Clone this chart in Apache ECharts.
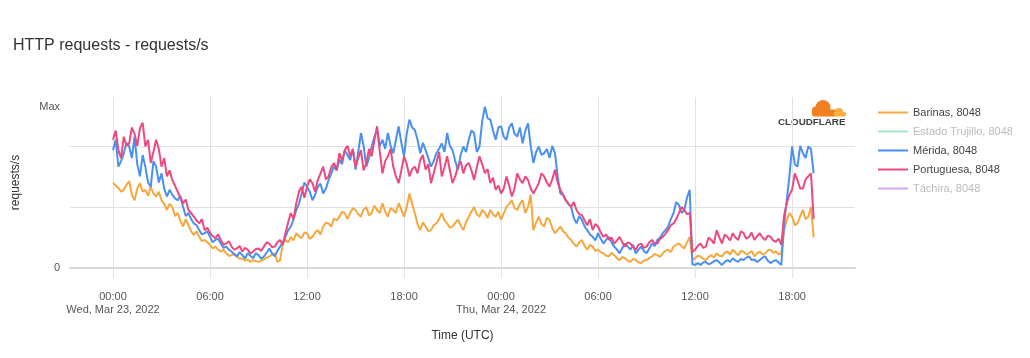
<!DOCTYPE html>
<html><head><meta charset="utf-8">
<script src="https://cdn.jsdelivr.net/npm/echarts@6/dist/echarts.min.js"></script>
<style>html,body{margin:0;padding:0;background:#fff}#c{width:1030px;height:358px}</style>
</head><body><div id="c"></div>
<script>
// Time sampling: one point every 10 minutes, hours since Wed, Mar 23, 2022 00:00 UTC
const startHour = 0;
const stepHours = 1 / 6;

// requests/s (relative units; grid lines at 1 and 2)
const barinas = [
1.39,1.35,1.31,1.25,1.28,1.36,1.42,1.2,1.11,1.3,1.39,1.25,1.28,1.18,1.33,1.22,1.17,1.25,1.11,1.05,
0.95,1.05,1.0,0.85,0.9,0.78,0.68,0.8,0.70,0.6,0.54,0.6,0.51,0.44,0.46,0.42,0.38,0.32,0.35,0.3,
0.27,0.3,0.24,0.2,0.21,0.24,0.19,0.15,0.16,0.12,0.14,0.1,0.13,0.11,0.10,0.12,0.14,0.17,0.19,0.22,
0.24,0.1,0.13,0.4,0.46,0.42,0.51,0.45,0.57,0.52,0.49,0.58,0.57,0.48,0.51,0.58,0.62,0.55,0.68,0.74,
0.73,0.68,0.81,0.78,0.84,0.92,0.9,0.8,0.9,0.98,0.95,0.88,0.84,0.96,1.0,0.86,0.9,1.02,0.95,0.9,
1.06,0.92,0.84,0.98,0.95,0.9,1.06,0.96,0.84,1.0,1.22,1.05,0.9,0.72,0.62,0.75,0.68,0.6,0.62,0.7,
0.73,0.8,0.9,0.78,0.73,0.66,0.68,0.74,0.79,0.7,0.62,0.75,0.84,0.92,1.0,0.88,0.84,0.95,0.9,0.82,
0.95,0.88,0.84,0.92,0.79,0.9,1.0,1.05,1.11,0.98,0.95,1.05,1.11,0.9,1.0,1.2,0.62,0.75,0.84,0.72,
0.68,0.82,0.79,0.65,0.57,0.62,0.68,0.6,0.57,0.5,0.46,0.4,0.35,0.42,0.46,0.36,0.30,0.38,0.35,0.28,
0.30,0.26,0.24,0.2,0.19,0.25,0.21,0.16,0.13,0.18,0.16,0.12,0.10,0.15,0.13,0.09,0.08,0.12,0.13,0.16,
0.19,0.23,0.21,0.18,0.24,0.28,0.30,0.26,0.35,0.38,0.40,0.36,0.32,0.42,0.51,0.14,0.16,0.2,0.19,0.15,
0.13,0.18,0.21,0.17,0.24,0.2,0.19,0.25,0.27,0.22,0.30,0.25,0.21,0.28,0.27,0.22,0.24,0.28,0.19,0.24,
0.27,0.22,0.24,0.29,0.30,0.25,0.27,0.22,0.24,0.6,0.79,0.9,0.84,0.7,0.73,0.85,0.95,0.8,0.84,1.0,
0.5
];
const estadoTrujillo = [];
const merida = [
1.93,2.1,1.66,1.75,1.88,2.05,1.99,1.8,2.15,1.7,1.5,1.85,1.66,1.4,1.33,1.75,1.66,1.4,1.55,1.3,
1.17,1.28,1.2,1.14,1.11,1.18,1.0,0.85,0.9,0.8,0.73,0.7,0.62,0.55,0.57,0.6,0.51,0.42,0.46,0.48,
0.40,0.33,0.35,0.3,0.27,0.22,0.19,0.26,0.21,0.16,0.24,0.2,0.16,0.24,0.21,0.15,0.19,0.25,0.32,0.24,
0.19,0.28,0.35,0.42,0.51,0.62,0.68,0.8,0.95,1.05,1.22,1.4,1.33,1.25,1.11,1.2,1.33,1.38,1.22,1.3,
1.44,1.55,1.66,1.6,1.77,1.7,1.93,1.85,1.77,1.95,1.61,1.9,2.21,2.0,1.66,1.8,1.99,2.15,2.26,2.0,
2.1,1.95,2.21,2.0,1.88,2.1,2.32,2.05,1.83,2.2,2.43,2.3,2.26,2.1,1.88,2.05,1.93,1.8,1.66,1.75,
1.88,1.95,2.04,1.9,2.21,2.0,1.93,1.75,1.61,1.85,1.99,1.9,2.1,2.25,2.21,1.9,1.99,2.4,2.64,2.45,
2.43,2.25,2.1,2.3,2.32,2.15,2.1,2.3,2.37,2.2,2.15,2.3,2.04,2.25,2.37,2.0,1.72,1.9,1.99,1.85,
1.88,1.95,1.8,2.0,1.88,1.5,1.22,1.2,1.11,1.05,1.0,0.82,0.73,0.85,0.79,0.68,0.62,0.55,0.51,0.45,
0.57,0.48,0.40,0.46,0.51,0.42,0.35,0.3,0.24,0.33,0.40,0.35,0.30,0.38,0.24,0.3,0.35,0.28,0.24,0.32,
0.40,0.36,0.46,0.5,0.57,0.62,0.68,0.8,0.90,1.08,1.03,0.9,0.95,1.15,1.28,0.06,0.05,0.08,0.05,0.09,
0.10,0.06,0.08,0.11,0.13,0.09,0.05,0.1,0.13,0.1,0.16,0.12,0.10,0.15,0.13,0.17,0.19,0.13,0.14,0.1,
0.13,0.17,0.19,0.12,0.08,0.11,0.13,0.09,0.05,0.7,1.11,1.5,1.99,1.7,1.66,2.0,1.88,1.8,1.99,1.95,
1.55
];
const portuguesa = [
2.1,2.25,1.93,1.8,2.15,2.0,2.04,2.3,2.2,2.0,2.29,2.38,1.99,2.1,1.72,1.9,2.1,1.95,1.66,1.8,
1.5,1.6,1.44,1.35,1.25,1.15,1.06,1.12,0.95,0.9,0.84,0.78,0.73,0.8,0.62,0.66,0.57,0.52,0.49,0.55,
0.46,0.38,0.40,0.44,0.35,0.3,0.32,0.36,0.27,0.33,0.30,0.24,0.27,0.31,0.32,0.28,0.35,0.42,0.40,0.34,
0.35,0.42,0.46,0.38,0.57,0.75,0.9,0.8,1.06,1.25,1.33,1.15,1.33,1.45,1.39,1.25,1.44,1.55,1.66,1.45,
1.5,1.65,1.72,1.6,1.88,1.75,1.93,2.0,1.83,1.95,1.66,1.8,1.93,1.6,1.72,1.95,1.83,2.1,2.32,1.9,
1.55,1.75,1.83,1.95,1.66,1.5,1.39,1.6,1.83,1.7,1.5,1.62,1.66,1.55,1.77,1.85,1.61,1.7,1.39,1.55,
1.72,1.9,1.5,1.65,1.83,1.6,1.39,1.5,1.66,1.75,1.55,1.68,1.72,1.6,1.44,1.65,1.83,1.7,1.55,1.62,
1.39,1.48,1.28,1.35,1.22,1.3,1.5,1.35,1.17,1.3,1.55,1.45,1.39,1.5,1.44,1.3,1.22,1.3,1.39,1.55,
1.5,1.4,1.33,1.45,1.61,1.4,1.28,1.2,1.11,1.05,1.0,1.08,0.95,0.88,0.87,0.78,0.7,0.8,0.62,0.72,
0.68,0.58,0.51,0.55,0.46,0.5,0.40,0.45,0.51,0.42,0.35,0.42,0.40,0.34,0.30,0.38,0.40,0.33,0.35,0.42,
0.46,0.4,0.40,0.48,0.51,0.56,0.62,0.7,0.73,0.8,0.90,1.0,0.95,0.88,0.90,0.26,0.30,0.36,0.40,0.33,
0.35,0.5,0.46,0.4,0.62,0.5,0.40,0.55,0.51,0.45,0.57,0.5,0.46,0.6,0.57,0.48,0.51,0.58,0.46,0.52,
0.57,0.5,0.46,0.53,0.51,0.45,0.43,0.48,0.38,0.85,1.06,1.2,1.28,1.55,1.44,1.3,1.3,1.45,1.5,1.55,
0.8
];
const tachira = [];

const seriesNames = ['Barinas, 8048', 'Estado Trujillo, 8048', 'Mérida, 8048', 'Portuguesa, 8048', 'Táchira, 8048'];
const seriesColors = ['#f5a83e', '#a8e4c6', '#4a8ff2', '#ec4a7e', '#d6a6ea'];
const tickHours = [0, 6, 12, 18, 24, 30, 36, 42];
const tickLabels = ['00:00\nWed, Mar 23, 2022', '06:00', '12:00', '18:00', '00:00\nThu, Mar 24, 2022', '06:00', '12:00', '18:00'];

const hours = barinas.map((_, i) => startHour + i * stepHours);
const pairs = arr => arr.map((v, i) => [hours[i], v]);
const maxValue = Math.max(...barinas, ...merida, ...portuguesa);

const chart = echarts.init(document.getElementById('c'), null, { renderer: 'canvas' });
const FONT = 'Liberation Sans, Arial, Helvetica, sans-serif';
const dataSets = [barinas, estadoTrujillo, merida, portuguesa, tachira];

const series = seriesNames.map((name, k) => ({
  name, type: 'line', data: pairs(dataSets[k]), showSymbol: false, symbol: 'none',
  color: seriesColors[k], lineStyle: { width: 2, color: seriesColors[k] }, animation: false,
  markLine: k === 0 ? {
    silent: true, symbol: 'none', animation: false,
    lineStyle: { color: 'rgba(0,0,0,0)', width: 1 },
    label: { show: true, position: 'start', formatter: 'Max', color: '#555', fontSize: 11, fontFamily: FONT, distance: 10 },
    data: [{ yAxis: maxValue }]
  } : undefined
}));

chart.setOption({
  backgroundColor: '#fff',
  animation: false,
  textStyle: { fontFamily: FONT },
  title: { text: 'HTTP requests - requests/s', left: 13, top: 38, padding: 0,
    textStyle: { fontSize: 16, fontWeight: 'normal', color: '#333', fontFamily: FONT } },
  legend: {
    orient: 'vertical', left: 873, top: 102, itemGap: 8, itemWidth: 30, itemHeight: 2,
    icon: 'rect', selectedMode: false,
    textStyle: { fontSize: 11, color: '#444', fontFamily: FONT },
    data: seriesNames.map((n, k) => ({ name: n, textStyle: { color: (k === 1 || k === 4) ? '#bbb' : '#444' } }))
  },
  grid: { left: 70, right: 175, top: 97, bottom: 90, containLabel: false },
  xAxis: {
    type: 'value', min: -2.66, max: 45.89,
    name: 'Time (UTC)', nameLocation: 'middle', nameGap: 62,
    nameTextStyle: { fontSize: 12, color: '#333', fontFamily: FONT },
    axisLine: { show: true, lineStyle: { color: '#d9d9d9', width: 2 } },
    axisTick: { show: true, length: 10, customValues: tickHours, lineStyle: { color: '#e2e2e2' } },
    splitLine: { show: true, lineStyle: { color: '#e2e2e2' } },
    axisLabel: { customValues: tickHours, margin: 22, color: '#555', fontSize: 11, lineHeight: 13, fontFamily: FONT,
      formatter: v => { const i = tickHours.indexOf(Math.round(v)); return i >= 0 ? tickLabels[i] : ''; } }
  },
  yAxis: {
    type: 'value', min: 0, max: 2.8, interval: 1,
    name: 'requests/s', nameLocation: 'middle', nameGap: 48, nameRotate: 90,
    nameTextStyle: { fontSize: 12, color: '#333', fontFamily: FONT },
    axisLine: { show: false }, axisTick: { show: false },
    splitLine: { show: true, showMaxLine: false, lineStyle: { color: '#e2e2e2' } },
    axisLabel: { margin: 10, color: '#555', fontSize: 11, fontFamily: FONT, showMaxLabel: false,
      formatter: v => (v === 0 ? '0' : '') }
  },
  graphic: [
    { type: 'group', left: 778, top: 100, children: [
      { type: 'circle', shape: { cx: 45, cy: 8, r: 7.5 }, style: { fill: '#f38020' } },
      { type: 'circle', shape: { cx: 38, cy: 11, r: 4 }, style: { fill: '#f38020' } },
      { type: 'rect', shape: { x: 34, y: 10, width: 24, height: 7, r: [0, 0, 2, 2] }, style: { fill: '#f38020' } },
      { type: 'circle', shape: { cx: 61, cy: 12.5, r: 4 }, style: { fill: '#faae40' } },
      { type: 'rect', shape: { x: 56, y: 12.5, width: 12, height: 4.5, r: [0, 2, 2, 0] }, style: { fill: '#faae40' } },
      { type: 'text', x: 0, y: 18, style: { text: 'CLOUDFLARE', fill: '#404041', font: 'bold 9.8px ' + FONT } }
    ] }
  ],
  series
});
</script></body></html>
